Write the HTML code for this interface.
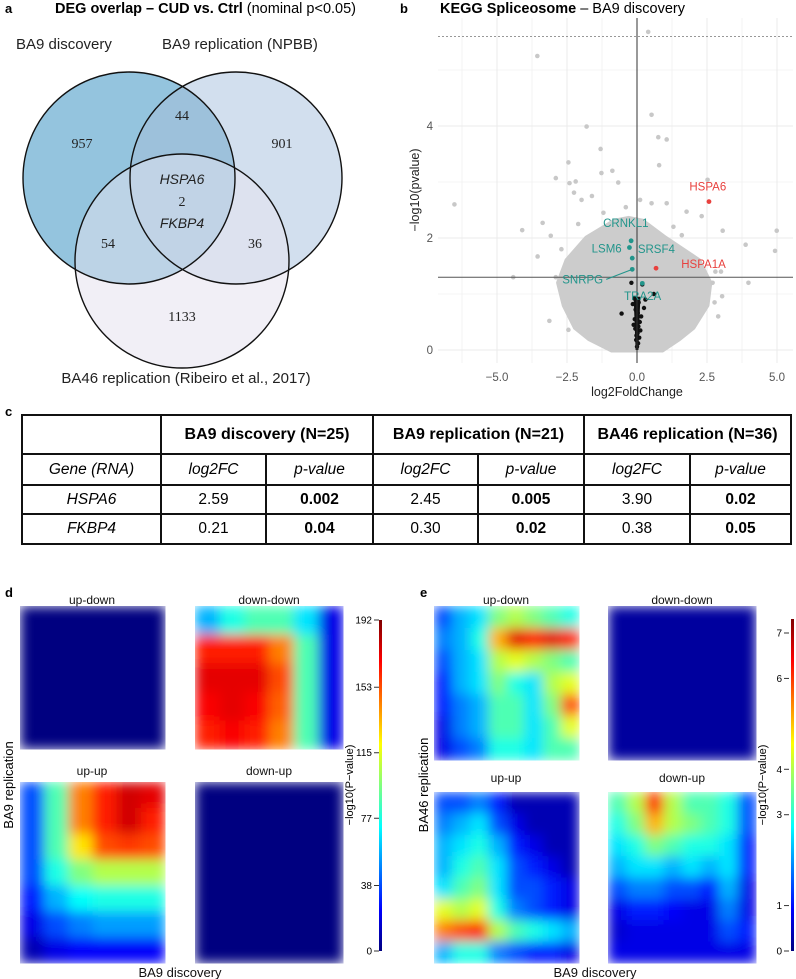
<!DOCTYPE html>
<html><head><meta charset="utf-8">
<style>
body{margin:0;background:#fff;}
#root{position:relative;width:796px;height:979px;overflow:hidden;font-family:"Liberation Sans",sans-serif;}
svg text{font-family:"Liberation Sans",sans-serif;}
svg text.serif{font-family:"Liberation Serif",serif;}
table{position:absolute;left:21px;top:414px;border-collapse:collapse;font-size:15.5px;}
td{border:2px solid #111;text-align:center;padding:0;}
</style></head>
<body>
<div id="root">
<svg id="main" width="796" height="979" style="position:absolute;left:0;top:0">
<defs>
<filter id="blur" x="0" y="0" width="1" height="1"><feGaussianBlur stdDeviation="6" edgeMode="duplicate"/></filter>
<linearGradient id="jetgrad" x1="0" y1="1" x2="0" y2="0">
<stop offset="0" stop-color="#00007f"/><stop offset="0.125" stop-color="#0000ff"/><stop offset="0.375" stop-color="#00ffff"/><stop offset="0.625" stop-color="#ffff00"/><stop offset="0.875" stop-color="#ff0000"/><stop offset="1" stop-color="#7f0000"/>
</linearGradient>
</defs>
<!-- Panel a: Venn -->
<g>
<text x="5" y="13" font-size="13" font-weight="bold">a</text>
<text x="55" y="13" font-size="14.5"><tspan font-weight="bold">DEG overlap – CUD vs. Ctrl</tspan> (nominal p&lt;0.05)</text>
<text x="16" y="49" font-size="15" fill="#222">BA9 discovery</text>
<text x="162" y="49" font-size="15" fill="#222">BA9 replication (NPBB)</text>
<text x="186" y="383" font-size="15" fill="#222" text-anchor="middle">BA46 replication (Ribeiro et al., 2017)</text>
<clipPath id="cA"><circle cx="129" cy="178" r="106"/></clipPath>
<clipPath id="cB"><circle cx="236" cy="178" r="106"/></clipPath>
<circle cx="182" cy="261" r="107" fill="#f1eff6"/>
<circle cx="236" cy="178" r="106" fill="#d2dfee"/>
<circle cx="129" cy="178" r="106" fill="#94c4de"/>
<circle cx="236" cy="178" r="106" fill="#9dc1db" clip-path="url(#cA)"/>
<circle cx="182" cy="261" r="107" fill="#bcd3e6" clip-path="url(#cA)"/>
<circle cx="182" cy="261" r="107" fill="#dde2ef" clip-path="url(#cB)"/>
<g clip-path="url(#cA)"><circle cx="182" cy="261" r="107" fill="#c1d3e6" clip-path="url(#cB)"/></g>
<circle cx="129" cy="178" r="106" fill="none" stroke="#111" stroke-width="1.4"/>
<circle cx="236" cy="178" r="106" fill="none" stroke="#111" stroke-width="1.4"/>
<circle cx="182" cy="261" r="107" fill="none" stroke="#111" stroke-width="1.4"/>
<g font-size="14" fill="#222" text-anchor="middle">
<text class="serif" x="82" y="148">957</text>
<text class="serif" x="182" y="120">44</text>
<text class="serif" x="282" y="148">901</text>
<text x="182" y="184" font-style="italic">HSPA6</text>
<text class="serif" x="182" y="206">2</text>
<text x="182" y="228" font-style="italic">FKBP4</text>
<text class="serif" x="108" y="248">54</text>
<text class="serif" x="255" y="248">36</text>
<text class="serif" x="182" y="321">1133</text>
</g>
</g>
<!-- Panel b: volcano -->
<g id="volcano">
<text x="400" y="13" font-size="13" font-weight="bold">b</text>
<text x="440" y="13" font-size="14.5"><tspan font-weight="bold">KEGG Spliceosome</tspan> – BA9 discovery</text>
<text transform="translate(419,190) rotate(-90)" font-size="12.5" text-anchor="middle" fill="#222">−log10(pvalue)</text>
<text x="637" y="396" font-size="12.5" text-anchor="middle" fill="#222">log2FoldChange</text>
</g>
<!-- Panel d/e -->
<g>
<text x="5" y="597" font-size="13" font-weight="bold">d</text>
<text x="420" y="597" font-size="13" font-weight="bold">e</text>
<g font-size="12" text-anchor="middle" fill="#111">
<text x="92" y="604">up-down</text>
<text x="269" y="604">down-down</text>
<text x="92" y="775">up-up</text>
<text x="269" y="775">down-up</text>
<text x="506" y="604">up-down</text>
<text x="682" y="604">down-down</text>
<text x="506" y="782">up-up</text>
<text x="682" y="782">down-up</text>
<text x="180" y="977" font-size="13">BA9 discovery</text>
<text x="595" y="977" font-size="13">BA9 discovery</text>
</g>
<text transform="translate(13,785) rotate(-90)" font-size="13" text-anchor="middle">BA9 replication</text>
<text transform="translate(428,785) rotate(-90)" font-size="13" text-anchor="middle">BA46 replication</text>
<text transform="translate(353,785) rotate(-90)" font-size="11" text-anchor="middle">−log10(P−value)</text>
<text transform="translate(766,785) rotate(-90)" font-size="11" text-anchor="middle">−log10(P−value)</text>
<rect x="379" y="620" width="3" height="331" fill="url(#jetgrad)"/>
<rect x="791" y="619" width="3" height="332" fill="url(#jetgrad)"/>
<g id="heats"></g>
</g>
</svg>
<table>
<tr style="height:39px;font-weight:bold;font-size:16px"><td style="width:137px"></td><td colspan="2">BA9 discovery (N=25)</td><td colspan="2">BA9 replication (N=21)</td><td colspan="2">BA46 replication (N=36)</td></tr>
<tr style="height:31px;font-style:italic"><td>Gene (RNA)</td><td style="width:103px">log2FC</td><td style="width:105px">p-value</td><td style="width:103px">log2FC</td><td style="width:104px">p-value</td><td style="width:104px">log2FC</td><td style="width:99px">p-value</td></tr>
<tr style="height:29px"><td><i>HSPA6</i></td><td>2.59</td><td><b>0.002</b></td><td>2.45</td><td><b>0.005</b></td><td>3.90</td><td><b>0.02</b></td></tr>
<tr style="height:30px"><td><i>FKBP4</i></td><td>0.21</td><td><b>0.04</b></td><td>0.30</td><td><b>0.02</b></td><td>0.38</td><td><b>0.05</b></td></tr>
</table>
<div style="position:absolute;left:5px;top:404px;font-size:13px;font-weight:bold">c</div>
</div>
<script>
const NS="http://www.w3.org/2000/svg";
// ---- volcano data ----
const xTicks=[-5,-2.5,0,2.5,5];
const xTickLabels=["−5.0","−2.5","0.0","2.5","5.0"];
const yTicks=[0,2,4];
const cloudX=[0.9,1.5,2.0,2.5,2.6,2.2,1.0,0.2,-0.3,-0.8,-1.8,-2.5,-2.8,-2.6,-2.2,-1.7,-0.9,0];
const cloudY=[0,0.2,0.4,0.8,1.2,1.6,2.0,2.3,2.35,2.3,2.0,1.6,1.2,0.8,0.4,0.2,0,0];
const outX=[0.40,-3.56,0.52,-1.80,0.76,1.06,-1.30,-2.45,0.79,-1.27,-0.88,-2.90,-2.19,2.52,-2.41,-0.67,-2.25,-6.52,-1.98,-1.61,0.11,0.52,1.06,1.77,2.31,-4.10,-3.37,-3.08,3.06,4.99,3.88,4.93,-3.55,-4.42,3.98,3.0,3.04,2.77,-3.13,-2.45,2.70,-2.7,-2.9,2.8,2.9,-1.2,1.3,1.6,-2.1,-0.4];
const outY=[5.68,5.25,4.20,3.99,3.80,3.76,3.59,3.35,3.30,3.16,3.20,3.07,3.01,3.04,2.98,2.99,2.81,2.60,2.68,2.75,2.68,2.62,2.62,2.47,2.39,2.14,2.27,2.04,2.13,2.13,1.88,1.77,1.67,1.30,1.20,1.40,0.96,0.85,0.52,0.36,1.20,1.8,1.3,1.4,0.6,2.45,2.2,2.05,2.25,2.55];
const blackX=[-0.2,0.19,0.6,-0.55,0.25,0.3,0.15,-0.1,-0.15,-0.05,0.1,0.05,-0.08,0.12,0.02,-0.12,0.08,-0.03,0.04,0.0,0.06,-0.06,0.03,-0.02];
const blackY=[1.2,1.17,1.0,0.65,0.75,0.9,0.6,0.92,0.82,0.72,0.5,0.42,0.55,0.35,0.3,0.45,0.22,0.18,0.12,0.06,0.85,0.38,0.66,0.26];
const genes=["HSPA6","HSPA1A","CRNKL1","SRSF4","LSM6","SNRPG","TRA2A"];
const geneX=[2.57,0.68,-0.21,-0.27,-0.17,-0.17,0.19];
const geneY=[2.65,1.46,1.95,1.83,1.64,1.44,1.19];
const geneUp=[true,true,false,false,false,false,false];
const geneLabelDx=[-0.7,0.9,-1.0,0.3,-1.45,-2.5,-0.65];
const geneLabelDy=[0.2,0,0.25,-0.1,0.1,-0.25,-0.3];
const sigLine=1.3, bonfLine=5.6;

const X0=438,X1=793,Y0=18,Y1=363;
const sx=v=>637+v*28, sy=v=>350-v*56;
const vg=document.getElementById('volcano');
function mk(tag,attrs,parent){const e=document.createElementNS(NS,tag);for(const k in attrs)e.setAttribute(k,attrs[k]);(parent||vg).appendChild(e);return e;}
for(let v=-6.25;v<=6.25;v+=1.25){const x=sx(v);if(x<X0||x>X1)continue;const l=mk('line',{x1:x,x2:x,y1:Y0,y2:Y1,stroke:'#ebebeb','stroke-width':Number.isInteger(v/2.5)?1:0.6});
}
for(let v=0;v<=5;v+=1){const l=mk('line',{x1:X0,x2:X1,y1:sy(v),y2:sy(v),stroke:'#ebebeb','stroke-width':v%2==0?1:0.6});
}
xTicks.forEach((v,i)=>{const t=mk('text',{x:sx(v),y:381,'font-size':11.5,'text-anchor':'middle',fill:'#555'});t.textContent=xTickLabels[i];
});
yTicks.forEach(v=>{const t=mk('text',{x:433,y:sy(v)+4,'font-size':11.5,'text-anchor':'end',fill:'#555'});t.textContent=v;
});
const cl=mk('polygon',{points:cloudX.map((x,i)=>sx(x)+','+sy(cloudY[i])).join(' '),fill:'#cccccc',stroke:'#cccccc','stroke-width':5,'stroke-linejoin':'round'});

outX.forEach((x,i)=>{const c=mk('circle',{cx:sx(x),cy:sy(outY[i]),r:2.3,fill:'#c8c8c8'});
});
const col=mk('polygon',{points:[[-0.12,0.95],[0.12,0.95],[0.05,0],[-0.05,0]].map(p=>sx(p[0])+','+sy(p[1])).join(' '),fill:'#111'});

blackX.forEach((x,i)=>{const c=mk('circle',{cx:sx(x),cy:sy(blackY[i]),r:2.2,fill:'#111'});
});
const hl=mk('line',{x1:X0,x2:X1,y1:sy(sigLine),y2:sy(sigLine),stroke:'#555','stroke-width':1});

const dl=mk('line',{x1:X0,x2:X1,y1:sy(bonfLine),y2:sy(bonfLine),stroke:'#777','stroke-width':0.8,'stroke-dasharray':'2,2'});

const vl=mk('line',{x1:sx(0),x2:sx(0),y1:Y0,y2:Y1,stroke:'#333','stroke-width':1});

genes.forEach((g,i)=>{const color=geneUp[i]?'#e8413e':'#22958b';
const c=mk('circle',{cx:sx(geneX[i]),cy:sy(geneY[i]),r:2.4,fill:color});

const lx=sx(geneX[i]+geneLabelDx[i]),ly=sy(geneY[i]+geneLabelDy[i]);
if(g==='SNRPG'){const s=mk('line',{x1:lx+44,y1:ly-4,x2:sx(geneX[i]),y2:sy(geneY[i]),stroke:color,'stroke-width':1});
}
const t=mk('text',{x:lx,y:ly,'font-size':11.5,fill:color});t.textContent=g;
});

// ---- heatmaps ----
const dUpDown=[[0,0],[0,0]];
const dDownDown=[[.3,.4,.45,.45,.35,.1],[.85,.85,.85,.75,.45,.1],[.9,.9,.9,.8,.45,.1],[.88,.9,.88,.78,.45,.1],[.85,.88,.85,.75,.45,.1]];
const dUpUp=[[.2,.45,.75,.85,.92,.9],[.2,.45,.75,.85,.92,.85],[.2,.45,.65,.8,.82,.8],[.2,.4,.5,.55,.55,.55],[.15,.3,.38,.4,.4,.4],[.1,.2,.25,.28,.28,.28],[.05,.1,.12,.12,.12,.12]];
const dDownUp=[[0,0],[0,0]];
const eUpDown=[[.2,.3,.35,.5,.55,.5,.45,.4],[.25,.3,.4,.7,.9,.85,.9,.85],[.2,.3,.35,.55,.6,.55,.5,.45],[.15,.3,.35,.5,.4,.35,.55,.6],[.15,.25,.3,.45,.45,.35,.5,.8],[.1,.25,.3,.45,.45,.35,.45,.6],[.1,.2,.25,.4,.4,.35,.45,.45]];
const eDownDown=[[.03,.03],[.03,.03]];
const eUpUp=[[.2,.2,.25,.15,.05,.05,.05,.05],[.25,.3,.35,.2,.1,.05,.05,.05],[.3,.35,.4,.3,.15,.1,.05,.05],[.3,.4,.45,.35,.2,.15,.1,.05],[.35,.45,.5,.35,.2,.2,.15,.1],[.6,.55,.6,.4,.25,.2,.15,.1],[.75,.8,.85,.55,.45,.4,.35,.3],[.3,.4,.4,.25,.2,.15,.15,.1]];
const eDownUp=[[.45,.55,.85,.55,.45,.45,.4,.2],[.4,.5,.7,.55,.5,.45,.4,.2],[.35,.4,.5,.45,.4,.4,.35,.15],[.3,.35,.35,.3,.35,.3,.35,.15],[.2,.25,.25,.2,.2,.15,.3,.1],[.1,.15,.15,.12,.1,.1,.25,.1],[.08,.1,.1,.1,.1,.1,.2,.15],[.1,.1,.1,.1,.1,.1,.1,.1]];
const dTicks=[0,38,77,115,153,192];
const eTicks=[0,1,3,4,6,7];
function jet(v){const c=t=>Math.round(255*Math.max(0,Math.min(1,1.5-Math.abs(4*v-t))));return `rgb(${c(3)},${c(2)},${c(1)})`;}
const hg=document.getElementById('heats');
function heat(grid,x,y,w,h,name){
 const g=document.createElementNS(NS,'g');g.setAttribute('filter','url(#blur)');
 
 const R=grid.length,C=grid[0].length;
 grid.forEach((row,r)=>row.forEach((v,c)=>{const e=document.createElementNS(NS,'rect');
  e.setAttribute('x',x+c*w/C);e.setAttribute('y',y+r*h/R);e.setAttribute('width',w/C+0.5);e.setAttribute('height',h/R+0.5);e.setAttribute('fill',jet(v));
  g.appendChild(e);}));
 hg.appendChild(g);
}
heat(dUpDown,20,606,145,143,'d-up-down-heatmap');
heat(dDownDown,195,606,148,143,'d-down-down-heatmap');
heat(dUpUp,20,782,145,181,'d-up-up-heatmap');
heat(dDownUp,195,782,148,181,'d-down-up-heatmap');
heat(eUpDown,434,606,145,154,'e-up-down-heatmap');
heat(eDownDown,608,606,148,154,'e-down-down-heatmap');
heat(eUpUp,434,792,145,171,'e-up-up-heatmap');
heat(eDownUp,608,792,148,171,'e-down-up-heatmap');
function cbTicks(ticks,vmax,xr,y0,y1,name){ticks.forEach(v=>{const y=y0-(y0-y1)*v/vmax;
 const l=document.createElementNS(NS,'line');l.setAttribute('x1',xr+2);l.setAttribute('x2',xr+7);l.setAttribute('y1',y);l.setAttribute('y2',y);l.setAttribute('stroke','#333');
 hg.appendChild(l);
 const t=document.createElementNS(NS,'text');t.setAttribute('x',xr);t.setAttribute('y',y+3.5);t.setAttribute('font-size','10');t.setAttribute('text-anchor','end');t.textContent=v;
 hg.appendChild(t);});}
cbTicks(dTicks,192,372,951,620,'d-colorbar');
cbTicks(eTicks,7,782,951,633,'e-colorbar');
</script>
</body></html>
